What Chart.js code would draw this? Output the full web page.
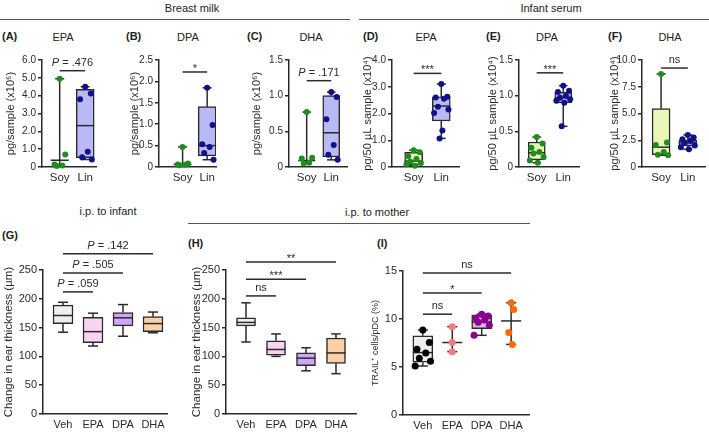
<!DOCTYPE html>
<html>
<head>
<meta charset="utf-8">
<script src="https://cdn.jsdelivr.net/npm/chart.js@4.4.1/dist/chart.umd.min.js"></script>
<style>
   body { margin: 0; background: #fff; }
   .fig { position: relative; width: 709px; height: 433px; overflow: hidden; font-family: "Liberation Sans", Arial, sans-serif; color: #222; }
   .fig canvas { position: absolute; }
   .txt { position: absolute; font-size: 11px; white-space: nowrap; transform: translate(-50%, -50%); }
   .lbl { position: absolute; font-size: 11px; font-weight: bold; white-space: nowrap; transform: translateY(-50%); }
   .rule { position: absolute; height: 0; border-top: 1.5px solid #555; }
</style>
</head>
<body>
<div class="fig" id="fig">
   <div class="txt" style="left:192px;top:8px">Breast milk</div>
   <div class="txt" style="left:551px;top:8px">Infant serum</div>
   <div class="rule" style="left:0;top:19px;width:350px"></div>
   <div class="rule" style="left:359px;top:19px;width:350px"></div>
   <div class="txt" style="left:108px;top:211px">i.p. to infant</div>
   <div class="txt" style="left:377px;top:212px">i.p. to mother</div>
   <div class="rule" style="left:188px;top:223px;width:342px"></div>

   <div class="lbl" style="left:2px;top:36px">(A)</div>
   <div class="lbl" style="left:126px;top:36px">(B)</div>
   <div class="lbl" style="left:247px;top:36px">(C)</div>
   <div class="lbl" style="left:363px;top:36px">(D)</div>
   <div class="lbl" style="left:486px;top:36px">(E)</div>
   <div class="lbl" style="left:608px;top:36px">(F)</div>
   <div class="lbl" style="left:2px;top:235px">(G)</div>
   <div class="lbl" style="left:188px;top:243px">(H)</div>
   <div class="lbl" style="left:377px;top:243px">(I)</div>

   <div class="txt" style="left:63px;top:37px">EPA</div>
   <div class="txt" style="left:188px;top:37px">DPA</div>
   <div class="txt" style="left:311px;top:37px">DHA</div>
   <div class="txt" style="left:426px;top:37px">EPA</div>
   <div class="txt" style="left:547px;top:37px">DPA</div>
   <div class="txt" style="left:670px;top:37px">DHA</div>
</div>
<script>
// categories
const soyLin = ['Soy', 'Lin'];
const treatments = ['Veh', 'EPA', 'DPA', 'DHA'];

// box stats are [min, q1, median, q3, max]; null quartiles = no box drawn

// (A) breast milk EPA, pg/sample (x10^6)
const milkEpaSoy = [4.95, 0.7, 0.14, 0.09, 0.05];
const milkEpaLin = [4.5, 4.12, 3.8, 0.85, 0.55, 0.42];
const milkEpaStats = [[0.05, null, 0.38, null, 4.95], [0.42, 0.53, 2.32, 4.35, 4.5]];

// (B) breast milk DPA
const milkDpaSoy = [0.47, 0.08, 0.06, 0.05, 0.04];
const milkDpaLin = [1.85, 0.98, 0.53, 0.47, 0.33, 0.17];
const milkDpaStats = [[0.03, null, 0.06, null, 0.47], [0.17, 0.26, 0.5, 1.41, 1.85]];

// (C) breast milk DHA
const milkDhaSoy = [0.77, 0.13, 0.12, 0.06, 0.05];
const milkDhaLin = [1.05, 0.98, 0.67, 0.31, 0.17, 0.1];
const milkDhaStats = [[0.05, null, 0.09, null, 0.77], [0.1, 0.14, 0.48, 1.0, 1.05]];

// (D) infant serum EPA, pg/50 uL sample (x10^4)
const serumEpaSoy = [0.63, 0.55, 0.4, 0.3, 0.2, 0.15, 0.1, 0.05];
const serumEpaLin = [3.1, 2.63, 2.6, 2.55, 2.25, 2.15, 2.02, 1.36, 1.07];
const serumEpaStats = [[0.05, 0.08, 0.22, 0.55, 0.63], [1.07, 1.72, 2.28, 2.62, 3.1]];

// (E) infant serum DPA
const serumDpaSoy = [0.42, 0.33, 0.27, 0.21, 0.19, 0.14, 0.09, 0.06];
const serumDpaLin = [1.14, 1.07, 1.05, 1.0, 0.97, 0.95, 0.93, 0.9, 0.57];
const serumDpaStats = [[0.06, 0.1, 0.2, 0.35, 0.42], [0.57, 0.9, 0.97, 1.05, 1.14]];

// (F) infant serum DHA
const serumDhaSoy = [8.7, 2.3, 2.05, 1.4, 1.15, 1.1];
const serumDhaLin = [3.0, 2.75, 2.6, 2.45, 2.25, 2.0, 1.85, 1.65];
const serumDhaStats = [[1.1, 1.15, 1.85, 5.45, 8.7], [1.65, 1.98, 2.25, 2.5, 3.0]];

// (G) ear thickness change, i.p. to infant (um)
const infantEarStats = [
   [142, 157, 171, 189, 194],
   [118, 124, 143, 168, 175],
   [135, 153, 167, 176, 190],
   [141, 143, 157, 169, 177]
];

// (H) ear thickness change, i.p. to mother (um)
const motherEarStats = [
   [125, 153, 159, 167, 193],
   [100, 102, 112, 127, 139],
   [75, 84, 97, 106, 115],
   [70, 88, 106, 132, 139]
];

// (I) TRAIL+ cells / pDC (%)
const trailVeh = [8.85, 7.55, 6.85, 6.45, 5.9, 5.6, 5.1];
const trailEpa = [9.2, 7.55, 6.6];
const trailDpa = [10.5, 10.3, 10.1, 9.9, 9.65, 9.35, 8.3];
const trailDha = [11.7, 11.0, 8.6, 7.35];
const trailStats = [
   [5.1, 5.5, 6.5, 8.25, 8.85],
   [6.6, null, 7.55, null, 9.2],
   [8.3, 9.0, 9.7, 10.4, 10.5],
   [7.35, null, 9.8, null, 11.7]
];

// significance labels
const sigA = ['P = .476'];
const sigB = ['*'];
const sigC = ['P = .171'];
const sigD = ['***'];
const sigE = ['***'];
const sigF = ['ns'];
const sigG = ['P = .059', 'P = .505', 'P = .142'];
const sigH = ['ns', '***', '**'];
const sigI = ['ns', '*', 'ns'];

document.addEventListener('DOMContentLoaded', () => {
   const fig = document.getElementById('fig');
   const ink = '#2b2b2b';
   const fontFamily = '"Liberation Sans", Arial, sans-serif';
   const green = '#1e8c1e';
   const navy = '#10108a';
   const lav = '#b9b9f6';
   const lime = '#e9f7b8';

   Chart.defaults.font.family = fontFamily;
   Chart.defaults.color = ink;

   function jitter(k) {
      return [0, 0.22, -0.2, 0.1, -0.12, 0.26, -0.26, 0.04, -0.06][k % 9];
   }

   function line(ctx, x1, y1, x2, y2) {
      ctx.beginPath();
      ctx.moveTo(x1, y1);
      ctx.lineTo(x2, y2);
      ctx.stroke();
   }

   function drawTag(ctx, text, cx, by, size) {
      const normal = `${size}px ${fontFamily}`;
      const italic = `italic ${size}px ${fontFamily}`;
      ctx.fillStyle = ink;
      ctx.textBaseline = 'alphabetic';
      if (text.startsWith('P ')) {
         const rest = text.slice(1);
         ctx.font = italic;
         const wP = ctx.measureText('P').width;
         ctx.font = normal;
         const wR = ctx.measureText(rest).width;
         const x0 = cx - (wP + wR) / 2;
         ctx.textAlign = 'left';
         ctx.font = italic;
         ctx.fillText('P', x0, by);
         ctx.font = normal;
         ctx.fillText(rest, x0 + wP, by);
      } else {
         ctx.font = normal;
         ctx.textAlign = 'center';
         ctx.fillText(text, cx, by);
      }
   }

   // whiskers, caps, medians and significance bars
   const boxParts = {
      id: 'boxParts',
      afterDatasetDraw(chart, args) {
         if (args.meta.type !== 'bar') return;
         const opts = chart.options.plugins.boxParts;
         const { ctx } = chart;
         const x = chart.scales.x;
         const y = chart.scales.y;
         const cap = opts.boxW * 0.5;
         ctx.save();
         ctx.strokeStyle = ink;
         ctx.lineWidth = 1.5;
         opts.groups.forEach((g, i) => {
            const [min, q1, med, q3, max] = g.stats;
            const cx = x.getPixelForValue(i);
            const lo = q1 === null ? med : q1;
            const hi = q3 === null ? med : q3;
            line(ctx, cx, y.getPixelForValue(min), cx, y.getPixelForValue(lo));
            line(ctx, cx, y.getPixelForValue(hi), cx, y.getPixelForValue(max));
            line(ctx, cx - cap / 2, y.getPixelForValue(max), cx + cap / 2, y.getPixelForValue(max));
            line(ctx, cx - cap / 2, y.getPixelForValue(min), cx + cap / 2, y.getPixelForValue(min));
            line(ctx, cx - opts.boxW / 2, y.getPixelForValue(med), cx + opts.boxW / 2, y.getPixelForValue(med));
         });
         ctx.restore();
      },
      afterDraw(chart) {
         const opts = chart.options.plugins.boxParts;
         const { ctx } = chart;
         const x = chart.scales.x;
         const y = chart.scales.y;
         ctx.save();
         ctx.strokeStyle = ink;
         ctx.lineWidth = 1.5;
         opts.brackets.forEach((b, i) => {
            const [from, to, level] = b;
            const text = opts.sigs[i];
            const by = y.getPixelForValue(level);
            const x1 = x.getPixelForValue(from);
            const x2 = x.getPixelForValue(to);
            line(ctx, x1, by, x2, by);
            const lift = text.includes('*') ? 0 : 5;
            drawTag(ctx, text, (x1 + x2) / 2, by - lift, 11);
         });
         ctx.restore();
      }
   };

   const topFont = { tick: 10, cat: 11.5, title: 11 };
   const earFont = { tick: 11, cat: 11, title: 11.5 };
   const trailFont = { tick: 11, cat: 11, title: 9 };

   const panels = [
      { box: [4, 48, 38, 55, 107, 12, 22, 3], xr: [-0.692, 1.423], cats: soyLin, fonts: topFont,
        y: { max: 6, step: 1, dec: 1, title: 'pg/sample (x10⁶)' }, boxW: 18, r: 3,
        groups: [
           { pts: milkEpaSoy, stats: milkEpaStats[0], dot: green, fill: null },
           { pts: milkEpaLin, stats: milkEpaStats[1], dot: navy, fill: lav }
        ],
        brackets: [[0, 1, 5.4]], sigs: sigA },
      { box: [128, 48, 31, 58, 107, 12, 22, 3], xr: [-0.96, 1.36], cats: soyLin, fonts: topFont,
        y: { max: 2.5, step: 0.5, dec: 1, title: 'pg/sample (x10⁶)' }, boxW: 18, r: 3,
        groups: [
           { pts: milkDpaSoy, stats: milkDpaStats[0], dot: green, fill: null },
           { pts: milkDpaLin, stats: milkDpaStats[1], dot: navy, fill: lav }
        ],
        brackets: [[0, 1, 2.22]], sigs: sigB },
      { box: [250, 48, 39, 59, 107, 12, 22, 3], xr: [-0.72, 1.64], cats: soyLin, fonts: topFont,
        y: { max: 1.5, step: 0.5, dec: 1, title: 'pg/sample (x10⁶)' }, boxW: 17, r: 3,
        groups: [
           { pts: milkDhaSoy, stats: milkDhaStats[0], dot: green, fill: null },
           { pts: milkDhaLin, stats: milkDhaStats[1], dot: navy, fill: lav }
        ],
        brackets: [[0, 1, 1.21]], sigs: sigC },
      { box: [361, 48, 31, 68, 107, 12, 22, 3], xr: [-0.786, 1.643], cats: soyLin, fonts: topFont,
        y: { max: 4, step: 1, dec: 1, title: 'pg/50 µL sample (x10⁴)' }, boxW: 18, r: 3,
        groups: [
           { pts: serumEpaSoy, stats: serumEpaStats[0], dot: green, fill: lime },
           { pts: serumEpaLin, stats: serumEpaStats[1], dot: navy, fill: lav }
        ],
        brackets: [[0, 1, 3.5]], sigs: sigD },
      { box: [486, 48, 33, 61, 107, 12, 22, 3], xr: [-0.667, 1.593], cats: soyLin, fonts: topFont,
        y: { max: 1.5, step: 0.5, dec: 1, title: 'pg/50 µL sample (x10⁴)' }, boxW: 17, r: 3,
        groups: [
           { pts: serumDpaSoy, stats: serumDpaStats[0], dot: green, fill: lime },
           { pts: serumDpaLin, stats: serumDpaStats[1], dot: navy, fill: lav }
        ],
        brackets: [[0, 1, 1.32]], sigs: sigE },
      { box: [608, 48, 34, 66, 107, 12, 22, 1], xr: [-0.714, 1.643], cats: soyLin, fonts: topFont,
        y: { max: 10, step: 2.5, dec: 1, title: 'pg/50 µL sample (x10⁴)' }, boxW: 18, r: 3,
        groups: [
           { pts: serumDhaSoy, stats: serumDhaStats[0], dot: green, fill: lime },
           { pts: serumDhaLin, stats: serumDhaStats[1], dot: navy, fill: lav }
        ],
        brackets: [[0, 1, 9.25]], sigs: sigF },
      { box: [2, 236, 41, 124, 144, 34, 19, 3], xr: [-0.667, 3.467], cats: treatments, fonts: earFont,
        y: { max: 250, step: 50, dec: 0, title: 'Change in ear thickness (µm)' }, boxW: 20, r: 0,
        groups: [
           { pts: [], stats: infantEarStats[0], fill: '#efefef' },
           { pts: [], stats: infantEarStats[1], fill: '#fdd3f3' },
           { pts: [], stats: infantEarStats[2], fill: '#cfa5f7' },
           { pts: [], stats: infantEarStats[3], fill: '#fcd1a6' }
        ],
        brackets: [[0, 1, 212], [0, 2, 245], [0, 3, 278]], sigs: sigG },
      { box: [190, 236, 36, 130, 144, 34, 19, 3], xr: [-0.667, 3.667], cats: treatments, fonts: earFont,
        y: { max: 250, step: 50, dec: 0, title: 'Change in ear thickness (µm)' }, boxW: 19, r: 0,
        groups: [
           { pts: [], stats: motherEarStats[0], fill: '#efefef' },
           { pts: [], stats: motherEarStats[1], fill: '#fdd3f3' },
           { pts: [], stats: motherEarStats[2], fill: '#cfa5f7' },
           { pts: [], stats: motherEarStats[3], fill: '#fcd1a6' }
        ],
        brackets: [[0, 1, 205], [0, 2, 234], [0, 3, 264]], sigs: sigH },
      { box: [370, 236, 33, 127, 144, 35, 19, 3], xr: [-0.674, 3.607], cats: treatments, fonts: trailFont,
        y: { max: 15, step: 5, dec: 0, title: 'TRAIL⁺ cells/pDC (%)' }, boxW: 20, r: 3.5,
        groups: [
           { pts: trailVeh, stats: trailStats[0], dot: '#000000', fill: '#eeeeee' },
           { pts: trailEpa, stats: trailStats[1], dot: '#f47c7c', fill: null, spread: 0 },
           { pts: trailDpa, stats: trailStats[2], dot: '#8b008b', fill: '#dcb1ee' },
           { pts: trailDha, stats: trailStats[3], dot: '#ff6a00', fill: null, spread: 0.4 }
        ],
        brackets: [[0, 1, 10.5], [0, 2, 12.7], [0, 3, 14.8]], sigs: sigI }
   ];

   function makeChart(p) {
      const [left, top, yW, plotW, plotH, padTop, xH, padR] = p.box;
      const canvas = document.createElement('canvas');
      canvas.width = yW + plotW + padR;
      canvas.height = padTop + plotH + xH;
      canvas.style.left = `${left}px`;
      canvas.style.top = `${top}px`;
      fig.appendChild(canvas);

      const boxData = [];
      const boxFill = [];
      p.groups.forEach((g, i) => {
         if (g.stats[1] === null) return;
         boxData.push({ x: i, y: [g.stats[1], g.stats[3]] });
         boxFill.push(g.fill);
      });

      const datasets = [{
         type: 'bar',
         data: boxData,
         backgroundColor: boxFill,
         borderColor: ink,
         borderWidth: 1.5,
         borderSkipped: false,
         barThickness: p.boxW,
         order: 2
      }];

      p.groups.forEach((g, i) => {
         if (!g.pts.length) return;
         const spread = g.spread === undefined ? 1 : g.spread;
         datasets.push({
            type: 'scatter',
            data: g.pts.map((v, k) => ({ x: i + jitter(k) * spread, y: v })),
            pointRadius: p.r,
            pointBackgroundColor: g.dot,
            pointBorderWidth: 0,
            clip: false,
            order: 0
         });
      });

      return new Chart(canvas, {
         type: 'scatter',
         data: { datasets },
         options: {
            responsive: false,
            animation: false,
            layout: { padding: { top: padTop, right: padR, left: 0, bottom: 0 } },
            scales: {
               x: {
                  type: 'linear',
                  min: p.xr[0],
                  max: p.xr[1],
                  offset: false,
                  grid: { display: false, drawTicks: false },
                  border: { display: true, color: ink, width: 1.5 },
                  ticks: {
                     color: ink,
                     font: { size: p.fonts.cat },
                     padding: 4,
                     maxRotation: 0,
                     autoSkip: false,
                     callback: (v) => p.cats[v]
                  },
                  afterBuildTicks: (s) => { s.ticks = p.cats.map((c, i) => ({ value: i })); },
                  afterFit: (s) => { s.height = xH; }
               },
               y: {
                  min: 0,
                  max: p.y.max,
                  grid: { display: true, drawOnChartArea: false, drawTicks: true, tickLength: 4, color: ink, lineWidth: 1.5 },
                  border: { display: true, color: ink, width: 1.5 },
                  ticks: {
                     stepSize: p.y.step,
                     color: ink,
                     font: { size: p.fonts.tick },
                     padding: 2,
                     callback: (v) => (v === 0 ? '0' : v.toFixed(p.y.dec))
                  },
                  title: {
                     display: true,
                     text: p.y.title,
                     color: ink,
                     font: { size: p.fonts.title },
                     padding: 0
                  },
                  afterFit: (s) => { s.width = yW; }
               }
            },
            plugins: {
               legend: { display: false },
               tooltip: { enabled: false },
               boxParts: { groups: p.groups, boxW: p.boxW, brackets: p.brackets, sigs: p.sigs }
            }
         },
         plugins: [boxParts]
      });
   }

   panels.forEach(makeChart);
});
</script>
</body>
</html>
